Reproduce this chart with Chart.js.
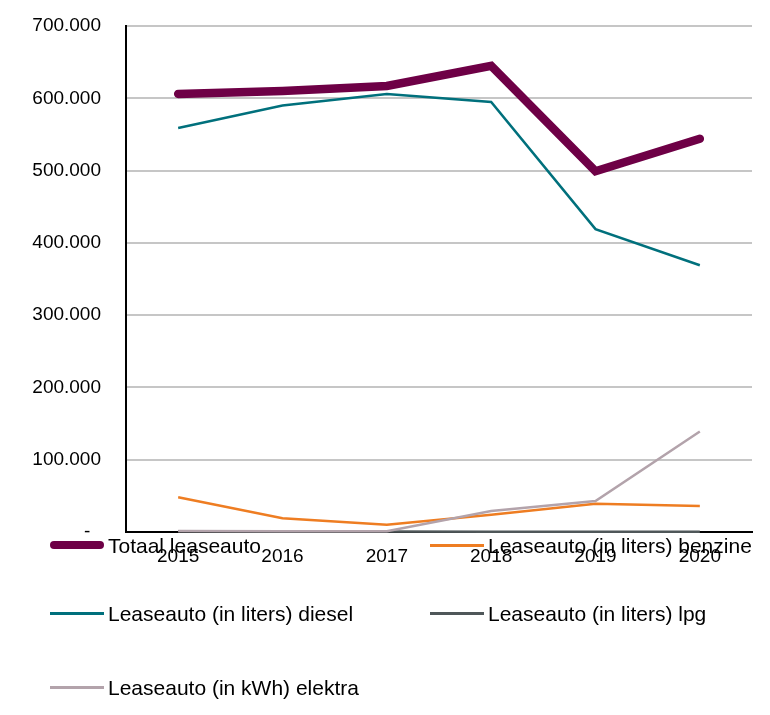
<!DOCTYPE html>
<html lang="nl">
<head>
  <meta charset="UTF-8" />
  <title>Leaseauto</title>
  <script src="https://cdn.jsdelivr.net/npm/chart.js@4.4.0/dist/chart.umd.min.js"></script>
  <style>
    body { margin: 0; background: #fff; }
    #wrap { position: relative; width: 770px; height: 715px; }
    canvas { position: absolute; left: 0; top: 0; }
    .item {
      position: absolute;
      display: flex;
      align-items: center;
      font-family: "Liberation Sans", Arial, sans-serif;
      font-size: 21px;
      color: #000;
      white-space: nowrap;
      line-height: 1;
    }
    .item .mark { width: 54px; margin-right: 4px; border-radius: 5px; }
  </style>
</head>
<body>
  <div id="wrap">
    <canvas id="chart" width="770" height="715"></canvas>
    <div id="legend"></div>
  </div>

  <script>
    const years = ['2015', '2016', '2017', '2018', '2019', '2020'];

    const totaal  = [606000, 610000, 617000, 645000, 499000, 544000];
    const benzine = [48000, 19000, 10000, 24000, 39000, 36000];
    const diesel  = [559000, 590000, 606000, 595000, 419000, 369000];
    const lpg     = [1000, 800, 600, 500, 400, 300];
    const elektra = [1500, 1200, 1000, 29000, 43000, 139000];

    const yTicks = [0, 100000, 200000, 300000, 400000, 500000, 600000, 700000];

    const seriesNames = [
      'Totaal leaseauto',
      'Leaseauto (in liters) benzine',
      'Leaseauto (in liters) diesel',
      'Leaseauto (in liters) lpg',
      'Leaseauto (in kWh) elektra'
    ];
    const seriesData = [totaal, benzine, diesel, lpg, elektra];
    const colors = ['#6e0046', '#ee7d22', '#00707c', '#4f5759', '#b3a3ab'];
    const widths = [8.5, 2.5, 2.5, 2.5, 2.5];
    const drawOrder = [0, 3, 1, 4, 2];

    // thousands with a dot, zero as a dash (accounting style)
    function fmt(v) {
      if (v === 0) return '-  ';
      return String(v).replace(/\B(?=(\d{3})+(?!\d))/g, '.');
    }

    const datasets = seriesNames.map((name, i) => ({
      label: name,
      data: seriesData[i],
      borderColor: colors[i],
      backgroundColor: colors[i],
      borderWidth: widths[i],
      borderCapStyle: i === 0 ? 'round' : 'butt',
      borderJoinStyle: 'miter',
      pointRadius: 0,
      tension: 0,
      clip: 10,
      order: drawOrder[i]
    }));

    const ctx = document.getElementById('chart').getContext('2d');
    new Chart(ctx, {
      type: 'line',
      data: { labels: years, datasets: datasets },
      options: {
        responsive: false,
        animation: false,
        layout: { padding: { top: 26, right: 18, bottom: 143, left: 0 } },
        plugins: { legend: { display: false }, tooltip: { enabled: false } },
        scales: {
          x: {
            offset: true,
            grid: { display: false, drawTicks: false },
            border: { color: '#000', width: 2 },
            ticks: {
              color: '#000',
              padding: 13,
              font: { family: 'Liberation Sans', size: 19 }
            },
            afterFit: (s) => { s.height = 40; s.paddingLeft = 0; s.paddingRight = 0; }
          },
          y: {
            min: 0,
            max: 700000,
            afterBuildTicks: (s) => { s.ticks = yTicks.map(v => ({ value: v })); },
            grid: { color: '#c6c6c6', lineWidth: 2, drawTicks: false },
            border: { color: '#000', width: 2 },
            ticks: {
              color: '#000',
              padding: 25,
              font: { family: 'Liberation Sans', size: 19 },
              callback: (v) => fmt(v)
            },
            afterFit: (s) => { s.width = 126; s.paddingTop = 0; s.paddingBottom = 0; }
          }
        }
      }
    });

    // legend in two columns, overlapping the axis labels like the original
    const legendPos = [
      { x: 50, y: 545 },
      { x: 430, y: 545 },
      { x: 50, y: 613 },
      { x: 430, y: 613 },
      { x: 50, y: 687 }
    ];
    const legend = document.getElementById('legend');
    seriesNames.forEach((name, i) => {
      const item = document.createElement('div');
      item.className = 'item';
      item.style.left = legendPos[i].x + 'px';
      item.style.top = (legendPos[i].y - 11) + 'px';
      item.style.height = '22px';
      const mark = document.createElement('span');
      mark.className = 'mark';
      mark.style.height = (i === 0 ? 8 : 3) + 'px';
      mark.style.background = colors[i];
      if (i !== 0) mark.style.borderRadius = '0';
      const text = document.createElement('span');
      text.textContent = name;
      item.appendChild(mark);
      item.appendChild(text);
      legend.appendChild(item);
    });
  </script>
</body>
</html>
